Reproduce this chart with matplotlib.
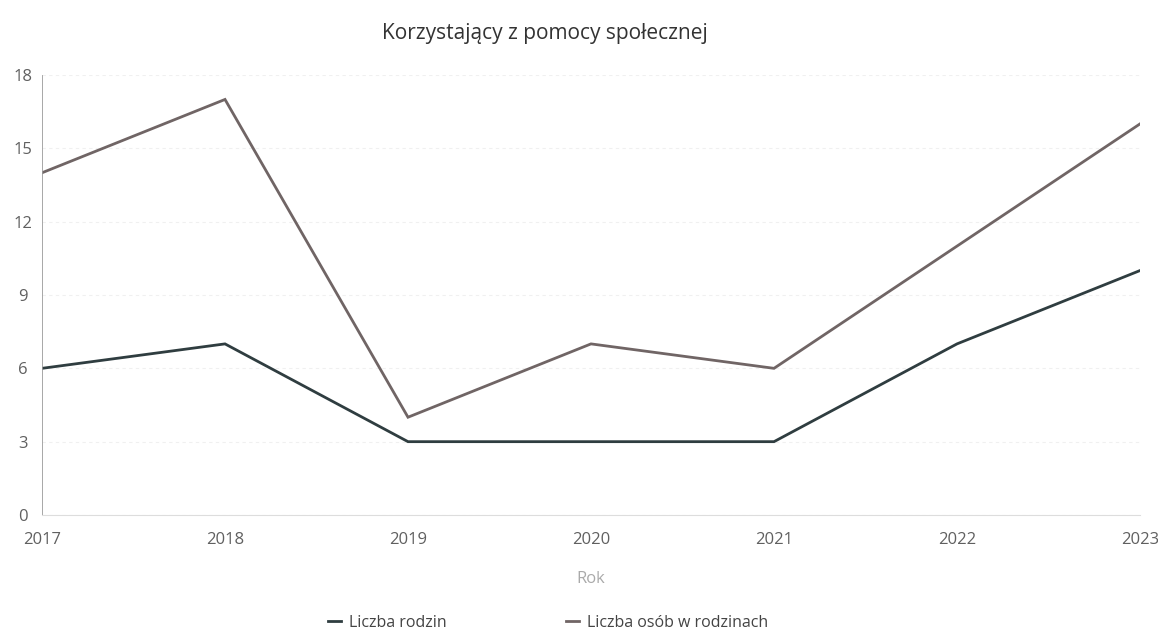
import matplotlib.pyplot as plt

plt.rcParams['font.family'] = ['Open Sans', 'DejaVu Sans']

years = [2017, 2018, 2019, 2020, 2021, 2022, 2023]
rodziny = [6, 7, 3, 3, 3, 7, 10]
osoby = [14, 17, 4, 7, 6, 11, 16]
yticks = [0, 3, 6, 9, 12, 15, 18]

fig = plt.figure(figsize=(11.58, 6.34), dpi=100)
ax = fig.add_axes([42 / 1158, 1 - 515 / 634, (1140 - 42) / 1158, (515 - 75) / 634])

ax.plot(years, rodziny, color='#2f3d40', lw=2.0, label='Liczba rodzin', solid_joinstyle='miter')
ax.plot(years, osoby, color='#706565', lw=2.0, label='Liczba osób w rodzinach', solid_joinstyle='miter')

ax.set_xlim(2017, 2023)
ax.set_ylim(0, 18)
ax.set_xticks(years)
ax.set_yticks(yticks)
ax.tick_params(axis='both', length=0, labelsize=12, colors='#606060')
ax.tick_params(axis='y', pad=14)
for lbl in ax.get_yticklabels():
    lbl.set_horizontalalignment('center')
ax.tick_params(axis='x', pad=12)

ax.grid(axis='y', color='#f0f0f0', lw=0.8, linestyle=(0, (3, 3)))
ax.set_axisbelow(True)
for s in ['top', 'right']:
    ax.spines[s].set_visible(False)
ax.spines['left'].set_color('#999999')
ax.spines['left'].set_linewidth(0.6)
ax.spines['bottom'].set_color('#dddddd')
ax.spines['bottom'].set_linewidth(0.8)

ax.set_xlabel('Rok', color='#aaaaaa', fontsize=12, labelpad=17)
fig.text(545 / 1158, 1 - 33 / 634, 'Korzystający z pomocy społecznej',
         ha='center', va='center', fontsize=15, color='#333333')

fig.legend(loc='center', bbox_to_anchor=(548 / 1158, 1 - 623 / 634), ncol=2,
           frameon=False, fontsize=11.5, handlelength=0.8, handletextpad=0.5,
           columnspacing=7.5, labelcolor='#444444')

fig.savefig('out.png', dpi=100)
